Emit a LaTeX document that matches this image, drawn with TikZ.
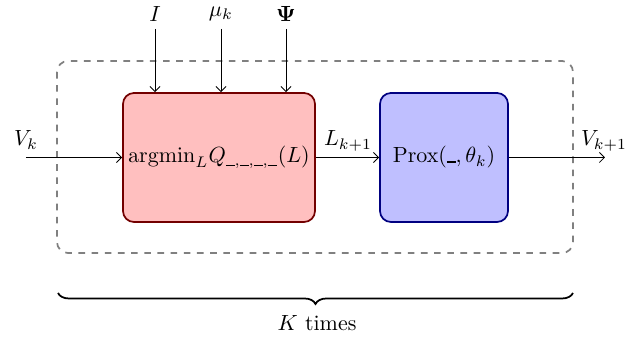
\documentclass[tikz,border=0pt]{standalone}
\usepackage{amsmath}
\usetikzlibrary{decorations.pathreplacing,arrows.meta}
\newcommand{\blankarg}{\rule{4pt}{0.45pt}}
\begin{document}
\begin{tikzpicture}[x=0.016cm,y=-0.016cm,
  redbox/.style={draw=red!45!black,fill=red!25,thick,rounded corners=5pt,minimum width=192*0.016cm,minimum height=129*0.016cm,inner sep=0pt},
  bluebox/.style={draw=blue!50!black,fill=blue!25,thick,rounded corners=5pt,minimum width=128*0.016cm,minimum height=129*0.016cm,inner sep=0pt},
  frame/.style={draw=gray,dashed,thick,rounded corners=5pt},
  conn/.style={->,>=Straight Barb},
  lbl/.style={inner sep=0pt}]
\useasboundingbox (0,0) rectangle (640,337);
\draw[frame] (57,61) rectangle (573,253);
\node[redbox] (argmin) at (219,157.5) {$\mathrm{argmin}_L Q_{\blankarg,\blankarg,\blankarg,\blankarg}(L)$};
\node[bluebox] (prox) at (444,157.5) {$\mathrm{Prox}(\rule{0.4em}{0.08em},\theta_k)$};
\coordinate (vin) at (26,157.5);
\coordinate (vout) at (605,157.5);
\node[lbl,anchor=base] (lvk) at (26,146) {$V_k$};
\node[lbl,anchor=base] (llk) at (348,146) {$L_{k+1}$};
\node[lbl,anchor=base] (lvk1) at (604,146) {$V_{k+1}$};
\node[lbl] (li) at (155,14) {$I$};
\node[lbl] (lmu) at (221,14) {$\mu_k$};
\node[lbl] (lpsi) at (286,14) {$\mathbf{\Psi}$};
\coordinate (ti) at (155,29);
\coordinate (tmu) at (221,29);
\coordinate (tpsi) at (286,29);
\draw[conn] (vin) -- (argmin);
\draw[conn] (argmin) -- (prox);
\draw[conn] (prox) -- (vout);
\draw[conn] (ti) -- (ti |- argmin.north);
\draw[conn] (tmu) -- (tmu |- argmin.north);
\draw[conn] (tpsi) -- (tpsi |- argmin.north);
\coordinate (bl) at (58,293);
\coordinate (br) at (573,293);
\draw[thick,decorate,decoration={brace,mirror,amplitude=5pt}] (bl) -- (br);
\node[lbl] (ktimes) at (317,323) {$K$ times};
\end{tikzpicture}
\end{document}
